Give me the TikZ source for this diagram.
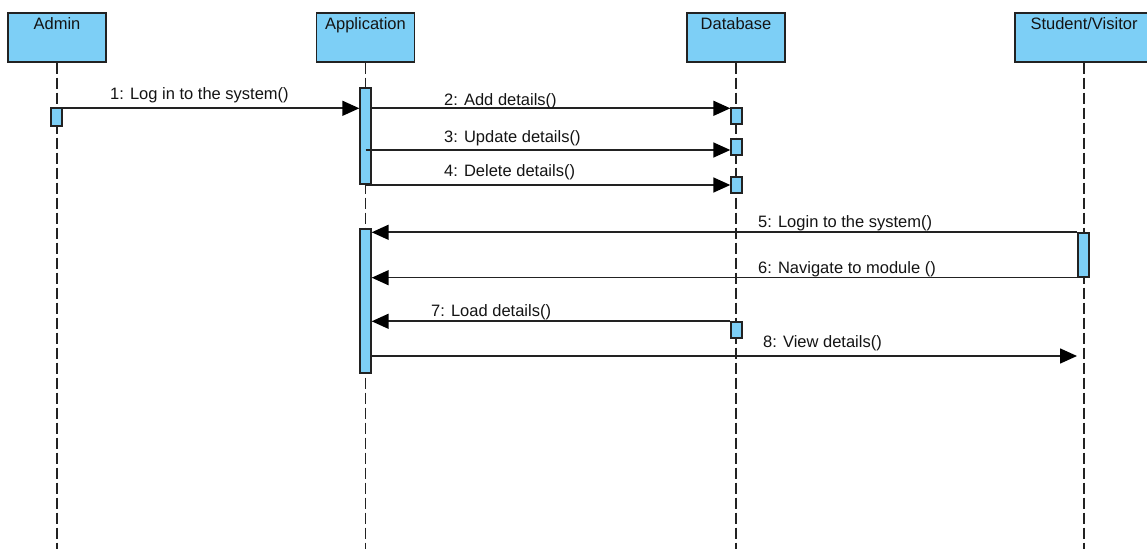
\documentclass[tikz,border=0pt]{standalone}
\usepackage{fontspec}
\setmainfont{Liberation Sans}
\usetikzlibrary{arrows.meta}
\definecolor{actfill}{RGB}{125,207,246}
\definecolor{edge}{RGB}{34,34,34}
\definecolor{txt}{RGB}{20,20,20}
\tikzset{
  actorbox/.style={draw=edge, fill=actfill, line width=1.4bp, minimum width=98bp, minimum height=49bp, inner sep=0pt},
  actortext/.style={anchor=base, text=txt, font=\fontsize{16.5bp}{19bp}\selectfont, inner sep=0pt},
  lifeline/.style={draw=edge, line width=1.4bp, dash pattern=on 11bp off 4bp},
  actbar/.style={draw=edge, fill=actfill, line width=1.4bp, minimum width=11bp, inner sep=0pt},
  msg/.style={draw=edge, line width=1.6bp, -{Triangle[length=17bp, width=15bp, fill=black, color=black]}},
  msgtext/.style={anchor=base west, text=txt, font=\fontsize{16.5bp}{19bp}\selectfont, inner sep=0pt}
}
\begin{document}
\begin{tikzpicture}[x=1bp, y=-1bp]
\useasboundingbox (0,0) rectangle (1147,549);
\clip (0,0) rectangle (1147,549);
\fill[white] (0,0) rectangle (1147,549);
% actors
\node[actorbox] (admin) at (57,37.5) {};
\node[actorbox] (app) at (365.5,37.5) {};
\node[actorbox] (db) at (736,37.5) {};
\node[actorbox, minimum width=138bp] (stu) at (1084,37.5) {};
\node[actortext] (admint) at (57,29.5) {Admin};
\node[actortext] (appt) at (365.5,29.5) {Application};
\node[actortext] (dbt) at (736,29.5) {Database};
\node[actortext] (stut) at (1084,29.5) {Student/Visitor};
% lifeline ends
\coordinate (adminEnd) at (57,549);
\coordinate (appEnd) at (365.5,549);
\coordinate (dbEnd) at (736,549);
\coordinate (stuEnd) at (1084,549);
\draw[lifeline] (admin.south) -- (adminEnd);
\draw[lifeline] (app.south) -- (appEnd);
\draw[lifeline] (db.south) -- (dbEnd);
\draw[lifeline] (stu.south) -- (stuEnd);
% activation bars
\node[actbar, minimum height=18bp] (adm1) at (56.5,117) {};
\node[actbar, minimum height=96bp] (app1) at (365.5,136) {};
\node[actbar, minimum height=16bp] (db1) at (736.5,116) {};
\node[actbar, minimum height=16bp] (db2) at (736.5,147) {};
\node[actbar, minimum height=16bp] (db3) at (736.5,185) {};
\node[actbar, minimum height=144bp] (app2) at (365.5,301) {};
\node[actbar, minimum height=44bp] (st1) at (1083.5,255) {};
\node[actbar, minimum height=16bp] (db4) at (736.5,330) {};
\coordinate (m1a) at ([yshift=-1bp]adm1.north east);
\coordinate (m2b) at ([yshift=-1bp]db1.north west);
\coordinate (m3b) at ([yshift=-3bp]db2.west);
\coordinate (m8end) at (1077,356);
% messages
\draw[msg] (m1a) -- (app1.west |- m1a);
\draw[msg] (app1.east |- m2b) -- (m2b);
\draw[msg] (app1.center |- m3b) -- (m3b);
\draw[msg] (app1.center |- db3.west) -- (db3.west);
\draw[msg] (st1.north west) -- (app2.east |- st1.north west);
\draw[msg] (st1.south west) -- (app2.east |- st1.south west);
\draw[msg] (db4.north west) -- (app2.east |- db4.north west);
\draw[msg] (app2.east |- m8end) -- (m8end);
% message labels
\node[msgtext] (l1) at (110,100) {1: Log in to the system()};
\node[msgtext] (l2) at (444,106) {2: Add details()};
\node[msgtext] (l3) at (444,143) {3: Update details()};
\node[msgtext] (l4) at (444,176.5) {4: Delete details()};
\node[msgtext] (l5) at (758,228) {5: Login to the system()};
\node[msgtext] (l6) at (758,274) {6: Navigate to module ()};
\node[msgtext] (l7) at (431,316.5) {7: Load details()};
\node[msgtext] (l8) at (763,348) {8: View details()};
\end{tikzpicture}
\end{document}
